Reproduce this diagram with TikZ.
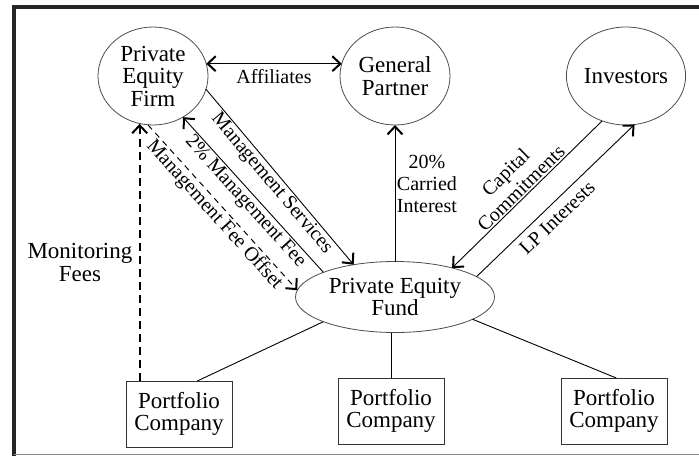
\documentclass[tikz,border=0pt]{standalone}
\usepackage{fontspec}
\setmainfont{Liberation Serif}
\usetikzlibrary{positioning,shapes.geometric,arrows.meta}

\begin{document}
\begin{tikzpicture}[x=1pt,y=-1pt]
  \tikzset{RoundStyle/.style = {
    shape         = ellipse,
    draw          = black!70,
    line width    = 0.8pt,
    text          = black,
    inner sep     = 0pt,
    outer sep     = 0pt,
    minimum width = 110pt,
    minimum height= 98pt,
    align         = center,
    font          = \fontsize{23}{22.5}\selectfont
    }
  }
  \tikzset{FundStyle/.style = {
    RoundStyle,
    minimum width = 199pt,
    minimum height= 71pt
    }
  }
  \tikzset{BoxStyle/.style = {
    shape         = rectangle,
    draw          = black!80,
    line width    = 0.8pt,
    text          = black,
    inner sep     = 0pt,
    outer sep     = 0pt,
    minimum width = 106pt,
    minimum height= 66pt,
    align         = center,
    font          = \fontsize{23}{22.5}\selectfont
    }
  }
  \tikzset{EdgeStyle/.style = {
    draw          = black,
    line width    = 0.9pt
    }
  }
  \tikzset{ArrowStyle/.style = {
    EdgeStyle,
    -{Straight Barb[length=8pt,width=15pt,line width=2pt]}
    }
  }
  \tikzset{TwoWayStyle/.style = {
    EdgeStyle,
    {Straight Barb[length=8pt,width=15pt,line width=2pt]}-{Straight Barb[length=8pt,width=15pt,line width=2pt]}
    }
  }
  \tikzset{DashStyle/.style = {
    ArrowStyle,
    line width    = 1pt,
    dash pattern  = on 6pt off 5pt
    }
  }
  \tikzset{ThickDashStyle/.style = {
    ArrowStyle,
    line width    = 1.7pt,
    dash pattern  = on 8pt off 5pt
    }
  }
  \tikzset{EdgeLabelStyle/.style = {
    text          = black,
    inner sep     = 1.5pt,
    align         = center,
    font          = \fontsize{20}{22}\selectfont
    }
  }

  \useasboundingbox (0, 0) rectangle (699, 456);
  \draw[line width=3.5pt, black!85] (699, 7) -- (14, 7) -- (14, 456);
  \draw[line width=1pt, black!45] (14, 454.5) -- (699, 454.5);
  %
  \node[RoundStyle](PEFirm) at (153, 76) {Private\\Equity\\Firm};
  \node[RoundStyle](GP) at (395, 76) {General\\Partner};
  \node[RoundStyle](Inv) at (626, 76) {Investors};
  \node[FundStyle](PEFund) at (395, 297) {Private Equity\\Fund};
  \node[BoxStyle](PC1) at (179, 414) {Portfolio\\Company};
  \node[BoxStyle](PC2) at (391, 411) {Portfolio\\Company};
  \node[BoxStyle](PC3) at (614, 411) {Portfolio\\Company};
  %
  \draw[TwoWayStyle](PEFirm.13) to node[EdgeLabelStyle, below=4pt]{Affiliates} (GP.167);
  \draw[ArrowStyle](PEFirm.-14) to node[EdgeLabelStyle, sloped, below]{Management Services} (PEFund.142);
  \draw[ArrowStyle](PEFund.161) to node[EdgeLabelStyle, sloped, below]{2\% Management Fee} (PEFirm.-54);
  \draw[DashStyle](PEFirm.-96) to node[EdgeLabelStyle, sloped, below]{Management Fee Offset} (PEFund.176);
  \draw[ArrowStyle](PEFund.north) to node[EdgeLabelStyle, right, pos=0.57]{20\%\\Carried\\Interest} (GP.south);
  \draw[ArrowStyle](Inv.-118) to node[EdgeLabelStyle, sloped, above]{Capital\\Commitments} (PEFund.27);
  \draw[ArrowStyle](PEFund.14) to node[EdgeLabelStyle, sloped, below=5pt, pos=0.45]{LP Interests} (Inv.-80);
  \draw[ThickDashStyle](PC1.140) to node[EdgeLabelStyle, left=5pt, pos=0.46, font=\fontsize{23}{22.5}\selectfont]{Monitoring\\Fees} (PC1.140 |- PEFirm.-104);
  %
  \draw[EdgeStyle](PEFund.-161) to (PC1.61);
  \draw[EdgeStyle](PEFund.south -| PC2.north) to (PC2.north);
  \draw[EdgeStyle](PEFund.-16) to (PC3.86);
\end{tikzpicture}
\end{document}
